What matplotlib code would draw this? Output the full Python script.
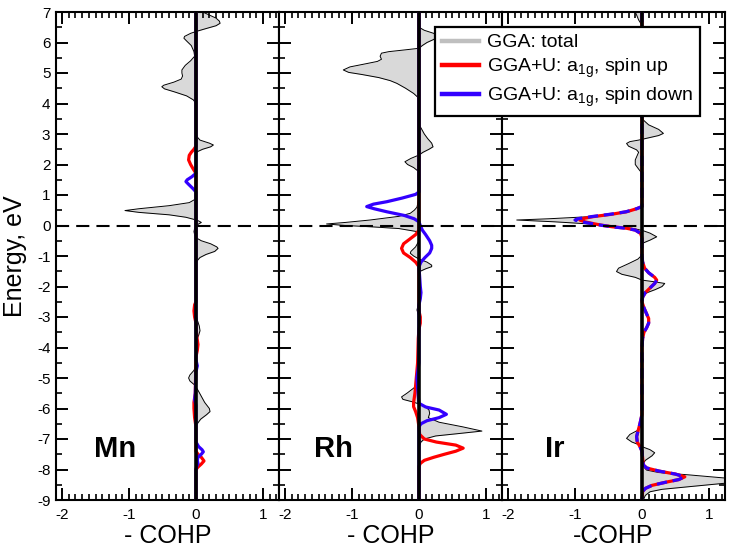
import matplotlib
matplotlib.use('Agg')
import matplotlib.pyplot as plt
from matplotlib.ticker import MultipleLocator, FixedLocator
from matplotlib.lines import Line2D

plt.rcParams['font.family'] = ['Liberation Sans', 'DejaVu Sans']
plt.rcParams['mathtext.fontset'] = 'custom'
plt.rcParams['mathtext.rm'] = 'Liberation Sans'
plt.rcParams['mathtext.default'] = 'regular'
plt.rcParams['axes.unicode_minus'] = False

# ---------------- data: (energy eV, -COHP) ----------------
panel_names = ['Mn', 'Rh', 'Ir']
xlabels = ['- COHP', '- COHP', '-COHP']
legend_labels = ['GGA: total', r'GGA+U: a$_{1g}$, spin up', r'GGA+U: a$_{1g}$, spin down']

mn_total = [(7.0, 0.1), (6.9, 0.2), (6.8, 0.3), (6.7, 0.35), (6.63, 0.36), (6.55, 0.3), (6.45, 0.14),
            (6.36, 0.0), (6.3, -0.08), (6.2, -0.17), (6.14, -0.18), (6.05, -0.14), (5.9, -0.07), (5.7, -0.03),
            (5.55, -0.02), (5.4, -0.08), (5.25, -0.16), (5.1, -0.21), (5.0, -0.21), (4.9, -0.2), (4.8, -0.22),
            (4.7, -0.33), (4.6, -0.48), (4.55, -0.51), (4.48, -0.47), (4.38, -0.32), (4.25, -0.14), (4.12, -0.04),
            (4.0, 0.0), (3.0, 0.0), (2.9, 0.02), (2.8, 0.06), (2.7, 0.2), (2.64, 0.26), (2.58, 0.22), (2.5, 0.1),
            (2.42, 0.02), (2.35, 0.0), (0.9, 0.0), (0.85, -0.02), (0.75, -0.1), (0.65, -0.4), (0.55, -0.85),
            (0.49, -1.06), (0.43, -0.85), (0.35, -0.4), (0.27, -0.15), (0.2, -0.03), (0.15, 0.04), (0.1, 0.08),
            (0.05, 0.04), (0.0, 0.0), (-0.1, -0.02), (-0.2, -0.03), (-0.3, -0.02), (-0.4, 0.0), (-0.5, 0.08),
            (-0.6, 0.22), (-0.7, 0.31), (-0.75, 0.33), (-0.85, 0.28), (-0.95, 0.15), (-1.05, 0.06), (-1.15, 0.02),
            (-1.25, 0.0), (-2.9, 0.0), (-3.1, 0.02), (-3.3, 0.05), (-3.45, 0.06), (-3.6, 0.04), (-3.8, 0.0),
            (-4.6, 0.0), (-4.75, -0.03), (-4.9, -0.09), (-5.0, -0.11), (-5.1, -0.09), (-5.23, -0.02), (-5.3, 0.0),
            (-5.4, 0.03), (-5.6, 0.08), (-5.8, 0.13), (-6.0, 0.2), (-6.1, 0.21), (-6.2, 0.16), (-6.35, 0.07),
            (-6.5, 0.02), (-6.6, 0.0), (-9.0, 0.0)]
mn_up = [(7.0, 0.0), (2.6, 0.0), (2.5, -0.03), (2.4, -0.07), (2.3, -0.1), (2.15, -0.11), (2.0, -0.08),
         (1.85, -0.04), (1.71, 0.0), (-2.5, 0.0), (-2.6, -0.02), (-2.8, -0.03), (-3.0, -0.02), (-3.2, 0.0),
         (-3.6, 0.01), (-3.9, 0.03), (-4.1, 0.02), (-4.3, 0.0), (-5.5, -0.01), (-5.8, -0.03), (-6.0, -0.03),
         (-6.3, -0.02), (-6.6, 0.0), (-7.4, 0.0), (-7.5, 0.03), (-7.6, 0.08), (-7.72, 0.12), (-7.82, 0.08),
         (-7.92, 0.03), (-8.0, 0.0), (-9.0, 0.0)]
mn_down = [(7.0, 0.0), (1.71, 0.0), (1.6, -0.06), (1.5, -0.13), (1.44, -0.15), (1.35, -0.11), (1.2, -0.04),
           (1.1, 0.0), (-4.4, 0.0), (-4.6, 0.02), (-4.8, 0.0), (-5.5, -0.01), (-5.7, -0.02), (-5.9, 0.0),
           (-7.1, 0.0), (-7.25, 0.04), (-7.35, 0.09), (-7.42, 0.11), (-7.5, 0.08), (-7.6, 0.03), (-7.7, 0.02),
           (-7.8, 0.03), (-7.9, 0.01), (-8.0, 0.0), (-9.0, 0.0)]

rh_total = [(7.0, 0.0), (6.5, 0.0), (6.4, 0.08), (6.3, 0.22), (6.2, 0.28), (6.1, 0.22), (6.0, 0.12), (5.9, 0.05),
            (5.81, 0.0), (5.76, -0.2), (5.7, -0.45), (5.65, -0.56), (5.55, -0.58), (5.45, -0.56), (5.38, -0.62),
            (5.3, -0.8), (5.2, -1.03), (5.1, -1.13), (5.02, -1.05), (4.95, -0.85), (4.85, -0.6), (4.75, -0.43),
            (4.66, -0.33), (4.5, -0.2), (4.33, -0.08), (4.17, 0.0), (3.3, 0.0), (3.2, 0.03), (3.0, 0.08),
            (2.85, 0.13), (2.7, 0.19), (2.58, 0.21), (2.5, 0.15), (2.4, 0.06), (2.31, 0.0), (2.2, -0.12),
            (2.09, -0.21), (2.0, -0.17), (1.9, -0.08), (1.76, 0.0), (0.9, 0.0), (0.6, -0.03), (0.5, -0.07),
            (0.4, -0.13), (0.3, -0.3), (0.18, -0.73), (0.1, -1.1), (0.05, -1.38), (0.0, -1.1), (-0.04, -0.73),
            (-0.1, -0.3), (-0.2, -0.03), (-0.3, 0.0), (-0.5, 0.0), (-0.7, -0.05), (-0.85, -0.12), (-0.91, -0.13),
            (-1.0, -0.08), (-1.1, 0.0), (-1.2, 0.12), (-1.3, 0.19), (-1.35, 0.19), (-1.42, 0.1), (-1.5, 0.02),
            (-1.6, 0.0), (-2.5, 0.0), (-2.77, -0.03), (-3.0, 0.0), (-3.6, 0.0), (-3.8, -0.02), (-4.0, 0.0),
            (-5.1, 0.0), (-5.3, -0.06), (-5.5, -0.18), (-5.62, -0.26), (-5.7, -0.24), (-5.78, -0.1), (-5.85, 0.0),
            (-5.95, 0.1), (-6.05, 0.15), (-6.16, 0.16), (-6.3, 0.14), (-6.45, 0.3), (-6.6, 0.65), (-6.74, 0.94),
            (-6.82, 0.6), (-6.9, 0.25), (-7.0, 0.08), (-7.1, 0.03), (-7.25, 0.0), (-9.0, 0.0)]
rh_up = [(7.0, 0.0), (-0.15, 0.0), (-0.3, -0.05), (-0.45, -0.14), (-0.6, -0.23), (-0.75, -0.26), (-0.9, -0.23),
         (-1.05, -0.13), (-1.2, -0.05), (-1.35, 0.0), (-2.8, 0.0), (-3.0, 0.02), (-3.2, 0.02), (-3.4, 0.0),
         (-3.7, -0.01), (-4.5, -0.02), (-5.0, -0.04), (-5.5, -0.06), (-5.8, -0.08), (-5.94, -0.08),
         (-6.1, -0.05), (-6.3, -0.02), (-6.6, 0.0), (-6.85, 0.01), (-7.0, 0.08), (-7.1, 0.26), (-7.2, 0.55),
         (-7.3, 0.66), (-7.4, 0.55), (-7.5, 0.38), (-7.6, 0.22), (-7.7, 0.08), (-7.8, 0.02), (-7.9, 0.0),
         (-9.0, 0.0)]
rh_down = [(7.0, 0.0), (1.1, 0.0), (1.02, -0.05), (0.9, -0.25), (0.78, -0.48), (0.7, -0.68), (0.62, -0.78),
           (0.55, -0.67), (0.45, -0.48), (0.33, -0.22), (0.22, -0.07), (0.12, 0.0), (0.0, 0.02), (-0.15, 0.05),
           (-0.3, 0.1), (-0.5, 0.16), (-0.65, 0.19), (-0.75, 0.19), (-0.9, 0.16), (-1.05, 0.09), (-1.2, 0.03),
           (-1.35, 0.0), (-2.0, 0.02), (-2.2, 0.03), (-2.4, 0.02), (-2.6, 0.0), (-4.5, 0.0), (-5.0, -0.03),
           (-5.3, -0.02), (-5.6, -0.01), (-5.83, 0.0), (-5.95, 0.1), (-6.05, 0.3), (-6.19, 0.41), (-6.3, 0.3),
           (-6.4, 0.12), (-6.5, 0.03), (-6.6, 0.0), (-9.0, 0.0)]

ir_total = [(7.0, -0.1), (6.85, -0.07), (6.74, -0.05), (6.6, -0.01), (6.5, 0.0), (3.6, 0.0), (3.46, 0.02),
            (3.3, 0.1), (3.15, 0.25), (3.02, 0.32), (2.95, 0.25), (2.85, 0.05), (2.8, -0.05), (2.75, -0.18),
            (2.69, -0.23), (2.6, -0.2), (2.48, -0.08), (2.4, -0.05), (2.3, -0.07), (2.15, -0.1), (2.0, -0.1),
            (1.85, -0.05), (1.71, 0.0), (0.62, 0.0), (0.5, -0.12), (0.4, -0.35), (0.29, -0.78), (0.22, -1.4),
            (0.18, -1.87), (0.12, -1.3), (0.05, -0.78), (-0.05, -0.35), (-0.1, -0.12), (-0.18, 0.03),
            (-0.25, 0.12), (-0.37, 0.22), (-0.48, 0.12), (-0.59, 0.0), (-0.97, 0.0), (-1.1, -0.06), (-1.25, -0.2),
            (-1.4, -0.35), (-1.51, -0.38), (-1.6, -0.3), (-1.7, -0.1), (-1.79, 0.0), (-1.85, 0.2), (-1.9, 0.34),
            (-2.0, 0.3), (-2.1, 0.2), (-2.2, 0.08), (-2.33, 0.0), (-4.3, 0.0), (-4.4, 0.02), (-4.5, 0.0),
            (-6.5, 0.0), (-6.7, -0.05), (-6.85, -0.18), (-6.98, -0.23), (-7.1, -0.15), (-7.2, -0.03),
            (-7.25, 0.0), (-7.35, 0.12), (-7.45, 0.19), (-7.55, 0.15), (-7.7, 0.05), (-7.8, 0.02), (-7.95, 0.04),
            (-8.02, 0.07), (-8.1, 0.25), (-8.18, 0.72), (-8.28, 1.24), (-8.36, 1.5), (-8.45, 1.24), (-8.56, 0.72),
            (-8.65, 0.3), (-8.73, 0.12), (-8.85, 0.05), (-9.0, 0.02)]
ir_up = [(7.0, 0.0), (0.62, 0.0), (0.55, -0.08), (0.45, -0.23), (0.37, -0.45), (0.29, -0.73), (0.22, -0.9),
         (0.18, -0.93), (0.12, -0.85), (0.05, -0.7), (0.02, -0.63), (-0.04, -0.45), (-0.09, -0.23),
         (-0.15, -0.1), (-0.26, -0.02), (-0.4, 0.0), (-1.0, 0.0), (-1.2, 0.01), (-1.4, 0.04), (-1.55, 0.1),
         (-1.7, 0.19), (-1.79, 0.22), (-1.9, 0.19), (-2.05, 0.12), (-2.2, 0.05), (-2.35, 0.01), (-2.5, 0.0),
         (-2.7, 0.03), (-2.9, 0.07), (-3.05, 0.1), (-3.2, 0.1), (-3.35, 0.07), (-3.5, 0.03), (-3.7, 0.01),
         (-4.0, 0.0), (-6.2, 0.0), (-6.5, -0.03), (-6.75, -0.06), (-6.92, -0.08), (-7.1, -0.07), (-7.25, -0.03),
         (-7.4, 0.0), (-7.85, 0.02), (-7.95, 0.07), (-8.05, 0.25), (-8.15, 0.5), (-8.24, 0.64), (-8.33, 0.55),
         (-8.42, 0.35), (-8.52, 0.15), (-8.62, 0.05), (-8.72, 0.01), (-9.0, 0.0)]
ir_down = [(7.0, 0.0), (0.62, 0.0), (0.55, -0.08), (0.45, -0.24), (0.37, -0.47), (0.29, -0.76), (0.22, -0.96),
           (0.18, -1.0), (0.12, -0.9), (0.05, -0.72), (0.02, -0.64), (-0.04, -0.46), (-0.09, -0.24),
           (-0.15, -0.1), (-0.26, -0.02), (-0.4, 0.0), (-1.0, 0.0), (-1.2, 0.01), (-1.4, 0.04), (-1.55, 0.1),
           (-1.7, 0.19), (-1.79, 0.22), (-1.9, 0.19), (-2.05, 0.12), (-2.2, 0.05), (-2.35, 0.01), (-2.5, 0.0),
           (-2.7, 0.03), (-2.9, 0.07), (-3.05, 0.1), (-3.2, 0.1), (-3.35, 0.07), (-3.5, 0.03), (-3.7, 0.01),
           (-4.0, 0.0), (-6.2, 0.0), (-6.5, -0.03), (-6.75, -0.06), (-6.92, -0.08), (-7.1, -0.07), (-7.25, -0.03),
           (-7.4, 0.0), (-7.85, 0.02), (-7.95, 0.07), (-8.05, 0.25), (-8.15, 0.5), (-8.24, 0.63), (-8.33, 0.55),
           (-8.42, 0.35), (-8.52, 0.15), (-8.62, 0.05), (-8.72, 0.01), (-9.0, 0.0)]

totals = [mn_total, rh_total, ir_total]
ups = [mn_up, rh_up, ir_up]
downs = [mn_down, rh_down, ir_down]
down_dashed = [False, False, True]

x_ticks = [-2, -1, 0, 1]
y_ticks = list(range(-9, 8))

# ---------------- styling ----------------
W, H = 734, 551
fig = plt.figure(figsize=(W / 100, H / 100), dpi=100)
red = '#ff0000'
blue = '#3300ff'
fill_gray = '#d9d9d9'

ax_left_px, ax_w_px, ax_bottom_px, ax_h_px = 56, 223, 51, 488
axes = []
for i in range(3):
    ax = fig.add_axes([(ax_left_px + i * ax_w_px) / W, ax_bottom_px / H, ax_w_px / W, ax_h_px / H])
    axes.append(ax)

label_x = [-1.53, -1.57, -1.45]
for i, ax in enumerate(axes):
    E, v = zip(*totals[i])
    ax.fill_betweenx(E, 0, v, color=fill_gray, lw=0, zorder=1)
    ax.plot(v, E, color='black', lw=0.7, zorder=2)
    Eu, vu = zip(*ups[i])
    ax.plot(vu, Eu, color=red, lw=2.3, zorder=3, solid_capstyle='butt')
    Ed, vd = zip(*downs[i])
    if down_dashed[i]:
        ax.plot(vd, Ed, color=blue, lw=2.3, zorder=4, dashes=(3.2, 1.8))
    else:
        ax.plot(vd, Ed, color=blue, lw=2.3, zorder=4)
    ax.axvline(0, color='black', lw=2.6, zorder=5)
    ax.axhline(0, color='black', lw=1.5, dashes=(6.3, 3.4), zorder=6)

    ax.set_xlim(-2.09, 1.24)
    ax.set_ylim(-9, 7)
    ax.xaxis.set_major_locator(FixedLocator(x_ticks))
    ax.xaxis.set_minor_locator(MultipleLocator(0.1))
    ax.yaxis.set_major_locator(FixedLocator(y_ticks))
    ax.yaxis.set_minor_locator(MultipleLocator(0.5))
    ax.tick_params(which='both', direction='in', top=True, right=True, labelsize=11)
    ax.tick_params(which='major', length=8.6, width=1.4)
    ax.tick_params(which='minor', length=4.3, width=1.2)
    ax.tick_params(axis='x', pad=6)
    ax.tick_params(axis='y', pad=4)
    for s in ax.spines.values():
        s.set_linewidth(1.5)
    ax.set_xlabel(xlabels[i], fontsize=18, labelpad=1)
    if i > 0:
        ax.tick_params(axis='y', labelleft=False)
    ax.text(label_x[i], -7.6, panel_names[i],
            fontsize=21, fontweight='bold', ha='left', va='baseline', zorder=7)

axes[0].set_ylabel('Energy, eV', fontsize=18)
axes[0].yaxis.set_label_coords(-0.13, 0.5)

handles = [Line2D([], [], color='#bfbfbf', lw=3.2),
           Line2D([], [], color=red, lw=3.2),
           Line2D([], [], color=blue, lw=3.2)]
leg = fig.legend(handles, legend_labels, loc='upper right', bbox_to_anchor=(700 / W, 1 - 27 / H),
                 fontsize=14, frameon=True, fancybox=False, framealpha=1, edgecolor='black',
                 borderpad=0.35, labelspacing=0.28, handlelength=1.9, handletextpad=0.45,
                 borderaxespad=0)
leg.get_frame().set_linewidth(1.6)

fig.savefig('out.png', dpi=100)
